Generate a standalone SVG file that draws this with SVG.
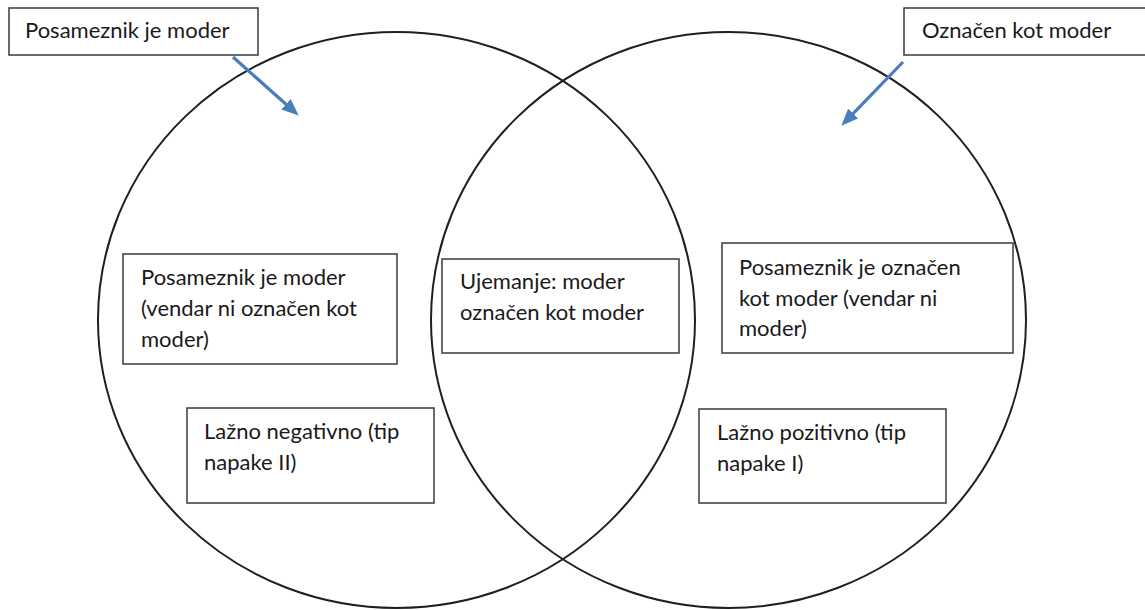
<svg xmlns="http://www.w3.org/2000/svg" width="1145" height="610" viewBox="0 0 1145 610">
  <style>
    .circle { fill: none; stroke: #1f1f1f; stroke-width: 2; }
    .box { fill: #ffffff; stroke: #3a3a3a; stroke-width: 1.5; }
    .lbl { font-family: Lato, "Liberation Sans", sans-serif; font-size: 22px; fill: #1a1a1a; }
    .arrow { stroke: #4a7ebb; stroke-width: 3.2; fill: none; marker-end: url(#head); }
  </style>
  <defs>
    <marker id="head" markerUnits="userSpaceOnUse" markerWidth="18" markerHeight="14" refX="6" refY="7" orient="auto">
      <path d="M0,0 L17,7 L0,14 z" fill="#4a7ebb"/>
    </marker>
  </defs>
  <rect width="1145" height="610" fill="#ffffff"/>

  <g id="sets">
    <ellipse id="set-moder" class="circle" cx="396.5" cy="320" rx="298.5" ry="288"/>
    <ellipse id="set-oznacen" class="circle" cx="728.5" cy="320" rx="297.5" ry="288"/>
  </g>

  <g id="title-left">
    <rect class="box" x="9" y="8" width="249" height="47"/>
    <text class="lbl" x="25" y="38">Posameznik je moder</text>
  </g>

  <g id="title-right">
    <rect class="box" x="904" y="8" width="250" height="47"/>
    <text class="lbl" x="922" y="38">Označen kot moder</text>
  </g>

  <g id="fn-left">
    <rect class="box" x="123" y="254" width="274" height="110"/>
    <text class="lbl" x="141" y="285">Posameznik je moder</text>
    <text class="lbl" x="141" y="316">(vendar ni označen kot</text>
    <text class="lbl" x="141" y="347">moder)</text>
  </g>

  <g id="fn-type2">
    <rect class="box" x="187" y="408" width="247" height="95"/>
    <text class="lbl" x="204" y="439">Lažno negativno (tip</text>
    <text class="lbl" x="204" y="470">napake II)</text>
  </g>

  <g id="match">
    <rect class="box" x="442" y="259" width="237" height="94"/>
    <text class="lbl" x="460" y="289">Ujemanje: moder</text>
    <text class="lbl" x="460" y="320">označen kot moder</text>
  </g>

  <g id="fp-right">
    <rect class="box" x="722" y="243" width="291" height="110"/>
    <text class="lbl" x="739" y="275">Posameznik je označen</text>
    <text class="lbl" x="739" y="306">kot moder (vendar ni</text>
    <text class="lbl" x="739" y="336">moder)</text>
  </g>

  <g id="fp-type1">
    <rect class="box" x="699" y="409" width="247" height="94"/>
    <text class="lbl" x="717" y="440">Lažno pozitivno (tip</text>
    <text class="lbl" x="717" y="471">napake I)</text>
  </g>

  <g id="connectors">
    <line class="arrow" x1="233" y1="57" x2="290.5" y2="108.3"/>
    <line class="arrow" x1="903" y1="62" x2="849" y2="117.8"/>
  </g>
</svg>
